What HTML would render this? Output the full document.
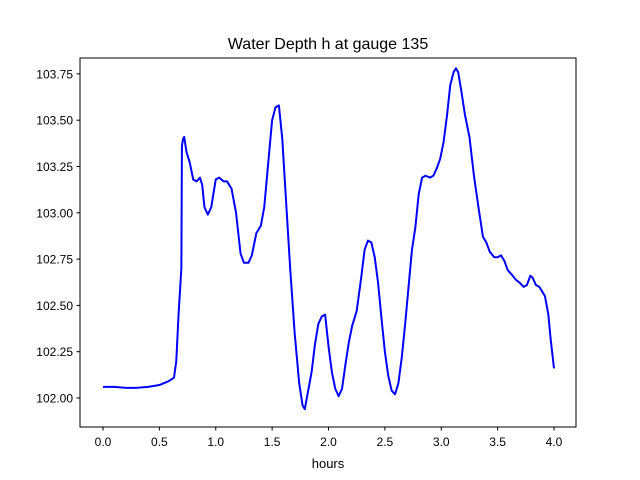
<!DOCTYPE html>
<html><head><meta charset="utf-8"><style>
body{margin:0;background:#fff;}
svg{display:block;font-family:"Liberation Sans","DejaVu Sans",sans-serif;}
</style></head><body>
<svg id="chart" width="640" height="480">
<rect width="640" height="480" fill="#fff"/>
<text x="328" y="49" text-anchor="middle" font-size="16">Water Depth h at gauge 135</text>
<g id="axes"></g>
<rect x="80" y="58" width="496" height="369" fill="none" stroke="#000" stroke-width="1"/>
<text x="328" y="468" text-anchor="middle" font-size="13">hours</text>
</svg>
<script>
const xTicks=[0.0,0.5,1.0,1.5,2.0,2.5,3.0,3.5,4.0];
const xTickLabels=["0.0","0.5","1.0","1.5","2.0","2.5","3.0","3.5","4.0"];
const yTicks=[102.0,102.25,102.5,102.75,103.0,103.25,103.5,103.75];
const yTickLabels=["102.00","102.25","102.50","102.75","103.00","103.25","103.50","103.75"];
const hours=[0.0,0.1,0.2,0.3,0.4,0.5,0.58,0.63,0.65,0.67,0.69,0.695,0.70,0.71,0.72,0.74,0.77,0.80,0.83,0.86,0.88,0.90,0.93,0.96,1.0,1.03,1.07,1.10,1.14,1.18,1.22,1.25,1.29,1.32,1.36,1.40,1.43,1.47,1.50,1.53,1.56,1.59,1.62,1.66,1.70,1.74,1.77,1.79,1.82,1.85,1.88,1.91,1.94,1.97,2.00,2.03,2.06,2.09,2.12,2.15,2.18,2.21,2.25,2.29,2.32,2.35,2.38,2.41,2.44,2.47,2.50,2.53,2.56,2.59,2.62,2.65,2.68,2.71,2.74,2.77,2.80,2.83,2.86,2.90,2.93,2.96,2.99,3.02,3.05,3.08,3.11,3.13,3.15,3.18,3.21,3.25,3.29,3.33,3.37,3.40,3.43,3.47,3.50,3.53,3.56,3.59,3.62,3.66,3.70,3.73,3.76,3.79,3.81,3.84,3.87,3.90,3.92,3.95,3.97,4.0];
const depth=[102.06,102.06,102.055,102.055,102.06,102.07,102.09,102.11,102.2,102.45,102.65,102.7,103.36,103.4,103.41,103.33,103.27,103.18,103.17,103.19,103.15,103.03,102.99,103.03,103.18,103.19,103.17,103.17,103.13,103.0,102.78,102.73,102.73,102.77,102.89,102.93,103.03,103.3,103.5,103.57,103.58,103.4,103.1,102.7,102.35,102.08,101.96,101.94,102.04,102.14,102.29,102.4,102.44,102.45,102.28,102.14,102.05,102.01,102.05,102.18,102.3,102.39,102.47,102.65,102.8,102.85,102.84,102.76,102.62,102.43,102.25,102.12,102.04,102.02,102.08,102.22,102.4,102.6,102.8,102.92,103.1,103.19,103.2,103.19,103.2,103.24,103.29,103.38,103.52,103.69,103.76,103.78,103.76,103.65,103.53,103.41,103.2,103.03,102.87,102.84,102.79,102.76,102.76,102.77,102.74,102.69,102.67,102.64,102.62,102.60,102.61,102.66,102.65,102.61,102.60,102.57,102.55,102.45,102.32,102.16];
const NS="http://www.w3.org/2000/svg";
const X=v=>103+v*112.75;
const Y=v=>398-(v-102)*185.2;
const g=document.getElementById('axes');
function mk(t,a){const e=document.createElementNS(NS,t);for(const k in a)e.setAttribute(k,a[k]);return e;}
xTicks.forEach((v,i)=>{
 const l=mk('line',{x1:X(v),x2:X(v),y1:427,y2:430.5,stroke:'#000'});
 
 
 g.appendChild(l);
 const t=mk('text',{x:X(v),y:446,'text-anchor':'middle','font-size':12});
 
 
 t.textContent=xTickLabels[i];g.appendChild(t);
});
yTicks.forEach((v,i)=>{
 const l=mk('line',{x1:76.5,x2:80,y1:Y(v),y2:Y(v),stroke:'#000'});
 
 
 g.appendChild(l);
 const t=mk('text',{x:73,y:Y(v)+4.5,'text-anchor':'end','font-size':12});
 
 
 t.textContent=yTickLabels[i];g.appendChild(t);
});
const p=mk('polyline',{points:hours.map((h,i)=>X(h)+','+Y(depth[i])).join(' '),fill:'none',stroke:'#0000ff','stroke-width':2,'stroke-linejoin':'round'});


g.appendChild(p);
</script>
</body></html>
